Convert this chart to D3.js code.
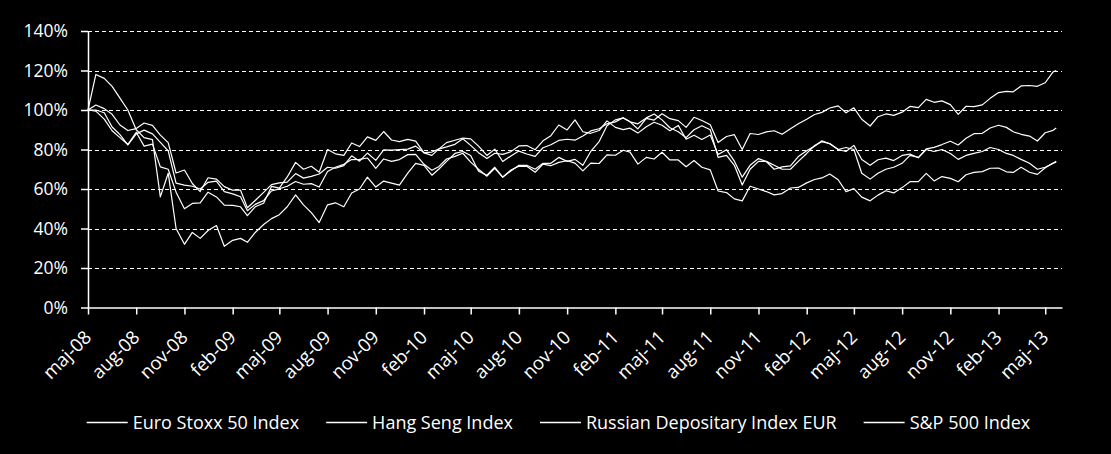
<!DOCTYPE html>
<html>
<head>
<meta charset="utf-8">
<script src="https://cdn.jsdelivr.net/npm/d3@7"></script>
<style>
  html, body { margin: 0; padding: 0; background: #000; }
  svg { display: block; }
  text { font-family: "Open Sans", sans-serif; fill: #fff; }
</style>
</head>
<body>
<div id="chart"></div>
<script>
// series names (legend order)
const seriesNames = ["Euro Stoxx 50 Index", "Hang Seng Index", "Russian Depositary Index EUR", "S&P 500 Index"];

// half-monthly observations, 1 May 2008 .. 16 May 2013, plus 22 May 2013 (index level, start = 100%)
const euroStoxx = [
  100, 100, 98.6, 91.4, 87.5, 82.4, 87.9, 89.8, 87.9, 83.6,
  79.3, 63.0, 62.0, 61.4, 60.0, 63.4, 64.0, 58.7, 57.5, 56.1,
  49.0, 52.2, 54.1, 59.0, 60.1, 61.4, 63.8, 62.4, 62.7, 61.0,
  68.9, 71.0, 72.5, 74.9, 75.0, 75.7, 70.5, 75.2, 74.0, 74.9,
  77.4, 77.5, 72.5, 69.5, 71.3, 75.2, 76.5, 78.1, 73.6, 70.0,
  66.5, 70.5, 66.0, 69.5, 71.6, 71.5, 68.5, 72.6, 71.8, 73.5,
  74.3, 73.1, 69.2, 73.1, 72.9, 77.3, 77.1, 79.6, 78.7, 72.6,
  76.0, 75.2, 78.6, 74.7, 74.7, 71.3, 74.4, 71.0, 69.7, 59.0,
  58.2, 55.0, 54.0, 61.4, 60.0, 58.7, 57.0, 57.7, 60.5, 60.8,
  63.1, 64.8, 65.6, 67.6, 64.7, 58.7, 60.2, 55.9, 54.0, 56.9,
  59.1, 58.0, 60.7, 63.7, 63.7, 67.9, 64.1, 66.3, 65.4, 63.7,
  67.2, 68.4, 68.8, 70.5, 70.6, 68.7, 68.4, 71.0, 68.5, 67.4,
  70.8, 73.1, 73.6
];
const hangSeng = [
  100, 99.4, 95.4, 89.5, 86.0, 82.5, 88.7, 81.7, 82.7, 71.2,
  70.0, 58.4, 50.0, 52.7, 53.0, 58.4, 56.0, 51.8, 51.7, 51.0,
  46.5, 51.0, 52.8, 61.3, 60.4, 66.1, 73.5, 70.0, 71.5, 68.5,
  80.0, 77.8, 77.0, 83.3, 81.5, 86.4, 84.6, 89.1, 84.8, 84.0,
  85.1, 84.2, 78.3, 77.0, 80.2, 81.3, 82.6, 85.4, 82.1, 78.4,
  75.5, 78.1, 77.5, 78.8, 81.8, 82.0, 79.9, 84.4, 87.0, 92.4,
  89.9, 95.0, 89.0, 88.2, 89.6, 94.5, 91.2, 90.1, 90.8, 88.3,
  91.5, 93.8, 92.3, 89.5, 92.2, 85.2, 87.2, 85.1, 87.3, 77.5,
  79.9, 74.1, 66.0, 72.0, 75.4, 73.9, 70.0, 71.2, 71.7, 76.4,
  79.4, 81.7, 84.4, 82.9, 80.0, 79.0, 82.1, 74.9, 72.0, 74.8,
  75.6, 74.4, 77.0, 77.7, 75.8, 80.3, 81.1, 82.5, 84.2, 82.3,
  85.7, 88.0, 88.2, 90.9, 92.3, 91.2, 89.0, 87.7, 86.8, 84.3,
  88.5, 89.7, 90.9
];
const russianDep = [
  100, 118, 116, 112, 106, 100, 90, 86, 85, 56,
  68, 40, 32, 38, 35, 39, 41.5, 31, 34, 35,
  33, 38, 42, 45, 47, 51, 57, 52, 48, 43,
  52, 53, 51, 58, 60, 66, 61, 64, 63, 62,
  68, 73, 72, 67, 70, 74, 78, 79, 77, 69,
  67, 71, 66, 69, 72, 72, 70, 73, 73, 76,
  74, 75, 72, 79, 84, 92, 95, 96, 94, 93,
  96, 98, 95, 91, 89, 86, 90, 92, 90, 76,
  77, 72, 62, 70, 74, 74, 72, 70, 70, 74,
  78, 82, 84, 83, 80, 81, 80, 68, 65, 68,
  70, 71, 73, 77, 76, 80, 79, 80, 78, 75,
  77, 78, 79, 81, 80, 78, 77, 75, 73, 70,
  71, 73, 74
];
const sp500 = [
  100, 102.5, 100.7, 97.8, 92.4, 89.6, 90.6, 93.4, 92.2, 87.3,
  83.5, 68.1, 69.6, 62.8, 58.7, 65.7, 65.0, 61.2, 59.4, 59.4,
  50.5, 54.2, 58.3, 62.2, 63.1, 63.5, 67.8, 65.5, 66.4, 67.6,
  71.0, 70.5, 71.8, 76.8, 74.1, 78.2, 74.5, 79.8, 79.7, 79.9,
  80.2, 81.7, 78.4, 78.7, 80.2, 83.5, 84.7, 85.8, 85.4, 81.7,
  77.0, 80.2, 73.9, 76.6, 79.2, 77.7, 76.5, 80.9, 82.4, 84.6,
  85.2, 84.7, 86.8, 89.4, 90.5, 93.0, 94.0, 96.1, 94.0, 90.4,
  95.8, 94.9, 98.1, 95.6, 94.6, 91.2, 96.3, 94.7, 92.5, 83.5,
  86.6, 87.5, 80.0, 88.1, 87.6, 88.9, 89.5, 87.7, 90.5, 93.0,
  95.3, 97.7, 98.8, 101.0, 102.1, 98.6, 101.1, 95.3, 91.9, 96.6,
  98.0, 97.3, 98.9, 101.8, 101.2, 105.4, 103.9, 104.6, 102.7, 97.8,
  101.9, 101.7, 102.6, 105.9, 108.8, 109.4, 109.2, 112.2, 112.4, 112.0,
  113.8, 119.3, 120.0
];

const yTicks = [0, 20, 40, 60, 80, 100, 120, 140];
const monthNames = ["jan", "feb", "mar", "apr", "maj", "jun", "jul", "aug", "sep", "okt", "nov", "dec"];

// observation dates: 1st and 16th of each month, last one 22 May 2013
const dates = d3.range(122).map(k => new Date(2008, 4 + Math.floor(k / 2), k % 2 ? 16 : 1));
dates.push(new Date(2013, 4, 22));

// axis ticks every 3 months from maj-08
const tickDates = d3.range(21).map(i => new Date(2008, 4 + 3 * i, 1));
const tickLabels = tickDates.map(d => monthNames[d.getMonth()] + "-" + String(d.getFullYear()).slice(2));

const W = 1111, H = 454;
const margin = { top: 31, right: 49, bottom: 146, left: 88 };

const svg = d3.select("#chart").append("svg")
    .attr("width", W)
    .attr("height", H)
    .style("background", "#000");

const x = d3.scaleTime()
    .domain([new Date(2008, 4, 1), new Date(2013, 5, 2)])
    .range([margin.left, W - margin.right]);

const y = d3.scaleLinear()
    .domain([0, 140])
    .range([H - margin.bottom - 0.5, margin.top]);

// gridlines
svg.append("g")
    .selectAll("line")
    .data(yTicks.filter(d => d > 0))
    .join("line")
    .attr("x1", margin.left)
    .attr("x2", W - margin.right)
    .attr("y1", d => Math.round(y(d)) + 0.5)
    .attr("y2", d => Math.round(y(d)) + 0.5)
    .attr("stroke", "#fff")
    .attr("stroke-width", 1)
    .attr("stroke-dasharray", "4,3");

// y axis
const yAxis = svg.append("g")
    .attr("transform", `translate(${margin.left},0)`)
    .call(d3.axisLeft(y).tickValues(yTicks).tickSize(7).tickSizeOuter(0).tickPadding(13)
        .tickFormat(d => d + "%"));
yAxis.selectAll("path, line").attr("stroke", "#fff").attr("stroke-width", 1.5);
yAxis.selectAll("text")
    .attr("fill", "#fff")
    .style("font-size", "17.5px")
    .style("font-family", "'Open Sans', sans-serif");

// x axis (ticks only, labels drawn separately)
const xAxis = svg.append("g")
    .attr("transform", `translate(0,${y(0)})`)
    .call(d3.axisBottom(x).tickValues(tickDates).tickSize(7).tickSizeOuter(0).tickFormat(""));
xAxis.selectAll("path, line").attr("stroke", "#fff").attr("stroke-width", 1.5);

svg.append("g")
    .selectAll("text")
    .data(tickDates)
    .join("text")
    .attr("text-anchor", "end")
    .attr("transform", d => `translate(${x(d) + 4.5},${y(0) + 31}) rotate(-45)`)
    .style("font-size", "18.5px")
    .text((d, i) => tickLabels[i]);

// lines
const allSeries = [euroStoxx, hangSeng, russianDep, sp500];
const line = d3.line()
    .x((d, i) => x(dates[i]))
    .y(d => y(d));

svg.append("g")
    .selectAll("path")
    .data(allSeries)
    .join("path")
    .attr("fill", "none")
    .attr("stroke", "#fff")
    .attr("stroke-width", 1.2)
    .attr("stroke-linejoin", "round")
    .attr("d", line);

// legend
const legend = svg.append("g").attr("class", "legend");
const items = legend.selectAll("g")
    .data(seriesNames)
    .join("g");

items.append("line")
    .attr("x1", 0).attr("x2", 41)
    .attr("y1", 0).attr("y2", 0)
    .attr("stroke", "#fff")
    .attr("stroke-width", 1.5);

items.append("text")
    .attr("x", 46)
    .attr("y", 6.5)
    .style("font-size", "18px")
    .text(d => d);

let offset = 0;
const positions = [];
items.each(function () {
    const w = 46 + this.querySelector("text").getComputedTextLength();
    positions.push(offset);
    offset += w + 27;
});
const total = offset - 27;
const startX = 558.5 - total / 2;
items.attr("transform", (d, i) => `translate(${startX + positions[i]},422.5)`);
</script>
</body>
</html>
